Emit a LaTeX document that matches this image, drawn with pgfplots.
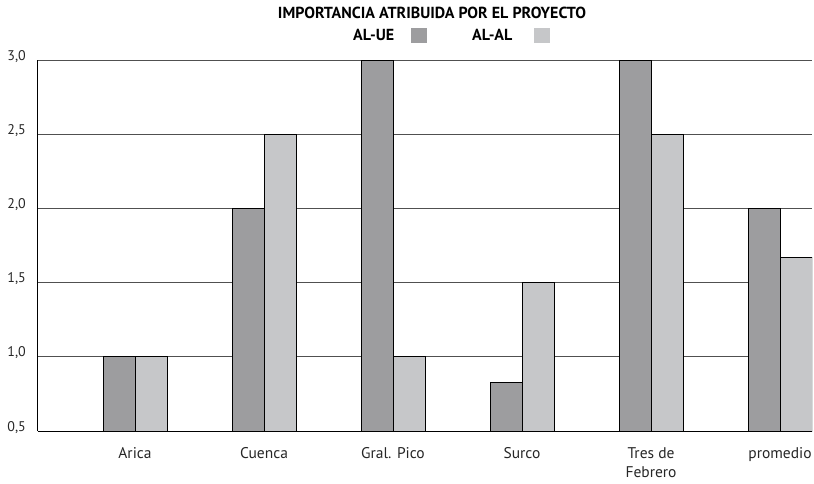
\documentclass[border=0pt]{standalone}
\usepackage{fontspec}
\setmainfont{PT Sans}
\usepackage{pgfplots}
\pgfplotsset{compat=1.18}

\definecolor{alue}{HTML}{9D9D9F}
\definecolor{alal}{HTML}{C6C7C9}
\definecolor{gridc}{HTML}{505050}

\begin{document}
\begin{tikzpicture}
\begin{axis}[
    scale only axis,
    width=774pt, height=371pt,
    ybar=0pt, bar width=32pt,
    xmin=0.248, xmax=6.248,
    ymin=0.5, ymax=3.0,
    xtick={1,...,6},
    xticklabels={Arica, Cuenca, Gral. Pico, Surco, {Tres de\\Febrero}, promedio},
    ytick={0.5,1.0,...,3.0},
    major tick length=0pt,
    axis x line*=bottom, axis y line*=left,
    axis line style={black, line width=1pt, -},
    ymajorgrids, grid style={gridc, line width=1pt},
    /pgf/number format/.cd, use comma, fixed, fixed zerofill, precision=1, assume math mode=true,
    /pgfplots/.cd,
    yticklabel style={font=\fontsize{14}{17}\selectfont, text=black!85,
        anchor=base east, inner sep=0pt, xshift=-12pt},
    xticklabel style={font=\fontsize{15.5}{19}\selectfont, text=black!85,
        anchor=north, align=center, inner sep=0pt, yshift=-16pt},
    title={IMPORTANCIA ATRIBUIDA POR EL PROYECTO},
    title style={font=\fontsize{16}{19}\selectfont\bfseries, at={(0.509,1.097)}, anchor=base, inner sep=0pt},
    legend columns=2,
    legend plot pos=right,
    legend image code/.code={\path[#1, draw=none] (0pt,-7.5pt) rectangle (16pt,7.5pt);},
    legend style={draw=none, fill=none, at={(0.407,1.0647)}, anchor=west,
        inner sep=0pt, font=\fontsize{16}{19}\selectfont\bfseries,
        nodes={inner sep=0pt},
        /tikz/every odd column/.append style={column sep=17pt},
        /tikz/every even column/.append style={column sep=45pt}},
]
\addplot[draw=black, line width=1pt, fill=alue] coordinates {
    (1,1.0) (2,2.0) (3,3.0) (4,0.83) (5,3.0) (6,2.0)
};
\addlegendentry{AL-UE}
\addplot[draw=black, line width=1pt, fill=alal] coordinates {
    (1,1.0) (2,2.5) (3,1.0) (4,1.5) (5,2.5) (6,1.67)
};
\addlegendentry{AL-AL\kern5pt\null}
\end{axis}
\pgfresetboundingbox
\path (-38pt,-52pt) rectangle (776pt,431pt);
\end{tikzpicture}
\end{document}
